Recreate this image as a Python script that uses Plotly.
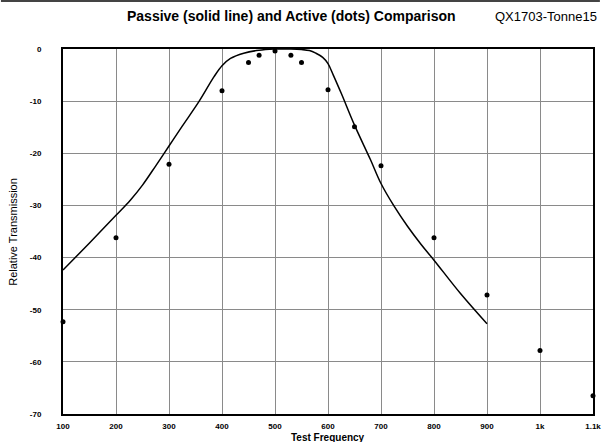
import plotly.graph_objects as go

# Passive response (solid line)
passive_freq = [100, 150, 200, 227, 250, 275, 300, 325, 357, 385, 400, 416, 441, 465, 490, 500,
                530, 550, 565, 577, 590, 600, 610, 625, 650, 680, 700, 725, 750, 775, 800, 850, 900]
passive_db = [-42.4, -37.2, -31.9, -29.0, -26.1, -22.4, -18.6, -14.8, -10.0, -5.3, -3.2, -1.8, -0.8, -0.3, -0.05, 0.0,
              0.0, -0.1, -0.3, -0.8, -1.6, -2.8, -5.0, -8.5, -14.6, -21.2, -25.8, -30.2, -34.0, -37.4, -40.5, -46.9, -52.7]

# Active response (dots)
active_freq = [100, 200, 300, 400, 450, 470, 500, 530, 550, 600, 650, 700, 800, 900, 1000, 1100]
active_db = [-52.3, -36.2, -22.1, -8.0, -2.6, -1.2, -0.4, -1.2, -2.6, -7.8, -14.9, -22.4, -36.2, -47.2, -57.8, -66.5]

x_tickvals = [100, 200, 300, 400, 500, 600, 700, 800, 900, 1000, 1100]
x_ticktext = ["100", "200", "300", "400", "500", "600", "700", "800", "900", "1k", "1.1k"]
y_tickvals = [0, -10, -20, -30, -40, -50, -60, -70]
y_ticktext = ["0", "-10", "-20", "-30", "-40", "-50", "-60", "-70"]

title_text = "Passive (solid line) and Active (dots) Comparison"
tag_text = "QX1703-Tonne15"

FONT = "Liberation Sans, Arial, sans-serif"

fig = go.Figure()
fig.add_trace(go.Scatter(x=passive_freq, y=passive_db, mode="lines",
                         line=dict(color="black", width=1.5, shape="spline", smoothing=1.0),
                         hoverinfo="skip", showlegend=False))
fig.add_trace(go.Scatter(x=active_freq, y=active_db, mode="markers",
                         marker=dict(color="black", size=5, symbol="circle"),
                         cliponaxis=False, showlegend=False))

grid = "#8a8a8a"
fig.update_xaxes(range=[100, 1100], tickvals=x_tickvals, ticktext=x_ticktext,
                 showgrid=True, gridcolor=grid, gridwidth=1,
                 showline=True, linecolor="black", linewidth=2, mirror=True,
                 ticks="", tickfont=dict(family=FONT, size=8, color="black", weight="bold"),
                 ticklabelstandoff=3, zeroline=False)
fig.update_yaxes(range=[-70, 0], tickvals=y_tickvals, ticktext=y_ticktext,
                 showgrid=True, gridcolor=grid, gridwidth=1,
                 showline=True, linecolor="black", linewidth=2, mirror=True,
                 ticks="", tickfont=dict(family=FONT, size=8, color="black", weight="bold"),
                 ticklabelstandoff=18, zeroline=False)

fig.update_layout(
    width=608, height=442,
    margin=dict(l=63, r=7, t=49, b=28, pad=0),
    paper_bgcolor="white", plot_bgcolor="white",
    font=dict(family=FONT, color="black"),
    annotations=[
        dict(text="<b>" + title_text + "</b>", xref="paper", yref="paper",
             x=(295 - 63) / 538, y=(414 - 16) / 365, xanchor="center", yanchor="middle",
             showarrow=False, font=dict(size=14, family=FONT, color="black")),
        dict(text=tag_text, xref="paper", yref="paper",
             x=(553 - 63) / 538, y=(414 - 16) / 365, xanchor="center", yanchor="middle",
             showarrow=False, font=dict(size=13, family=FONT, color="black")),
        dict(text="<b>Test Frequency</b>", xref="paper", yref="paper",
             x=0.5, y=(414 - 437) / 365, xanchor="center", yanchor="middle",
             showarrow=False, font=dict(size=10, family=FONT, color="black")),
        dict(text="Relative Transmission", xref="paper", yref="paper",
             x=(12 - 63) / 538, y=(414 - 232) / 365, xanchor="center", yanchor="middle",
             textangle=-90, showarrow=False, font=dict(size=11, family=FONT, color="black")),
    ],
    shapes=[dict(type="line", xref="paper", yref="paper", layer="above",
                 x0=-63 / 538, x1=(608 - 63) / 538, y0=(414 - 1) / 365, y1=(414 - 1) / 365,
                 line=dict(color="#444444", width=2))],
)

fig.write_html("out.html", config={"displayModeBar": False},
               post_script="document.body.style.margin='0';document.body.style.overflow='hidden';")
